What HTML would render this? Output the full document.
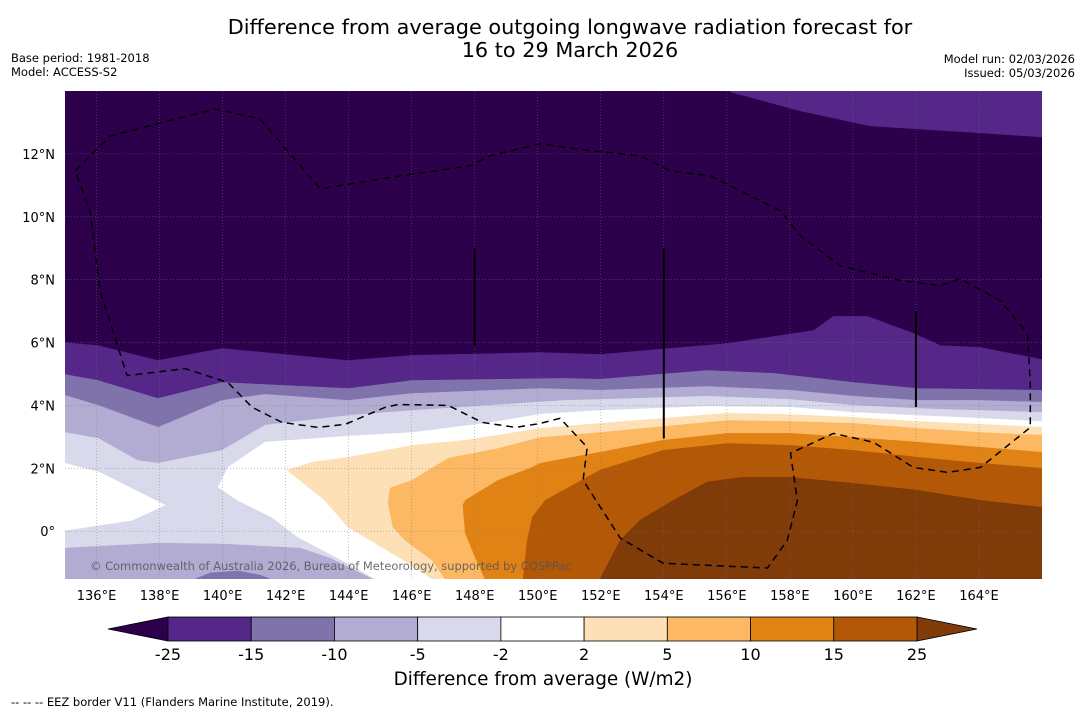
<!DOCTYPE html>
<html><head><meta charset="utf-8">
<style>
html,body{margin:0;padding:0;background:#fff;}
body{width:1085px;height:713px;overflow:hidden;font-family:"Liberation Sans","DejaVu Sans",sans-serif;}
svg text{font-family:"DejaVu Sans","Liberation Sans",sans-serif;}
</style></head>
<body>
<svg id="chart" width="1085" height="713" viewBox="0 0 1085 713" xmlns="http://www.w3.org/2000/svg">
<text x="570" y="34" font-size="20.8" text-anchor="middle">Difference from average outgoing longwave radiation forecast for</text>
<text x="570" y="57" font-size="20.8" text-anchor="middle">16 to 29 March 2026</text>
<text x="11" y="62" font-size="11.5">Base period: 1981-2018</text>
<text x="11" y="76" font-size="11.5">Model: ACCESS-S2</text>
<text x="1075" y="63" font-size="11.5" text-anchor="end">Model run: 02/03/2026</text>
<text x="1075" y="77" font-size="11.5" text-anchor="end">Issued: 05/03/2026</text>
<defs><clipPath id="mapclip"><rect x="65" y="91" width="977" height="488"/></clipPath></defs>
<g id="map" clip-path="url(#mapclip)"></g>
<g id="axes"></g>
<g id="cbar"></g>
<text x="543" y="685" font-size="18.4" text-anchor="middle">Difference from average (W/m2)</text>
<text x="11" y="706" font-size="11.5">--  --  -- EEZ border V11 (Flanders Marine Institute, 2019).</text>
</svg>
<script>
// ---- data (lon, lat) ----
const lonTicks=[136,138,140,142,144,146,148,150,152,154,156,158,160,162,164];
const latTicks=[0,2,4,6,8,10,12];
const levels=[-25,-15,-10,-5,-2,2,5,10,15,25];
const colors=['#2d004b','#542788','#8073ac','#b2abd2','#d8daeb','#ffffff','#fee0b6','#fdb863','#e08214','#b35806','#7f3b08'];
const topRightPurple=[[156.11,14],[156.11,13.97],[158.33,13.37],[160.56,12.89],[163.1,12.73],[166,12.54],[166,14]];
const cM25=[[135,6.0],[136.05,5.9],[137.95,5.43],[139.98,5.81],[143.98,5.43],[146.02,5.59],[150.08,5.68],[151.98,5.62],[156.02,5.97],[158.75,6.38],[159.38,6.83],[160.46,6.83],[161.92,6.29],[162.78,5.9],[164.05,5.84],[166,5.46]];
const cM15=[[135,4.98],[136.05,4.79],[137.95,4.22],[139.98,4.73],[143.98,4.54],[146.02,4.79],[150.87,4.86],[151.98,4.83],[155.38,5.11],[157.48,5.02],[160.02,4.73],[162.05,4.54],[164.05,4.51],[166,4.48]];
const cM10=[[135,4.32],[136.05,4.0],[137.95,3.3],[139.98,4.16],[141.35,4.35],[143.98,4.16],[146.02,4.38],[150.08,4.54],[151.98,4.48],[155.38,4.6],[158.02,4.48],[160.02,4.29],[162.05,4.16],[164.05,4.16],[166,4.1]];
const cM5=[[135,3.14],[136.05,2.95],[137.3,2.25],[137.95,2.16],[139.98,2.57],[141.35,3.37],[143.98,3.68],[146.02,3.84],[150.87,4.16],[151.98,4.19],[155.38,4.29],[158.02,4.19],[160.02,4.0],[162.05,3.9],[164.05,3.84],[166,3.78]];
const lowLeftM5=[[135,-1.52],[135,-0.54],[137.95,-0.38],[139.98,-0.41],[142.46,-0.54],[143.4,-0.86],[144.75,-1.52]];
const lowLeftM10=[[139.13,-1.52],[139.6,-1.33],[140.5,-1.27],[141.2,-1.4],[141.5,-1.52]];
const whiteWedge=[[135,2.16],[136.1,1.87],[138.17,0.83],[137.13,0.35],[135,0.03]];
const cM2Upper=[[139.86,1.4],[140.17,2.03],[141.35,2.83],[143.98,3.02],[146.02,3.14],[148.5,3.45],[150.08,3.72],[151.98,3.84],[155.38,3.97],[158.02,3.94],[160.02,3.78],[162.05,3.68],[164.05,3.59],[166,3.49]];
const cM2Lower=[[139.86,1.4],[140.49,0.98],[141.57,0.44],[142.4,-0.19],[143.98,-1.02],[144.84,-1.52]];
const cP2Upper=[[142.05,1.94],[142.84,2.19],[143.98,2.35],[146.02,2.73],[147.7,2.89],[150.08,3.27],[151.98,3.43],[156.02,3.75],[158.02,3.71],[160.02,3.62],[162.05,3.49],[164.05,3.4],[166,3.3]];
const cP2Lower=[[142.05,1.94],[143.25,0.98],[143.98,0.13],[145.06,-0.51],[146.11,-1.14],[146.65,-1.52]];
const cP5Upper=[[145.32,1.37],[146.02,1.62],[147.16,2.32],[148.75,2.63],[150.08,2.98],[151.98,3.14],[156.02,3.52],[158.02,3.49],[160.02,3.43],[162.05,3.27],[164.05,3.14],[166,3.05]];
const cP5Lower=[[145.32,1.37],[145.25,0.89],[145.41,0.13],[145.79,-0.29],[146.65,-0.92],[147.06,-1.52]];
const cP10Upper=[[147.63,0.83],[147.7,0.98],[148.75,1.62],[149.83,2.03],[150.08,2.16],[151.98,2.51],[153.98,2.89],[156.02,3.11],[158.02,3.11],[160.02,2.98],[162.05,2.83],[164.05,2.67],[166,2.51]];
const cP10Lower=[[147.63,0.83],[147.7,-0.06],[148.02,-0.83],[148.33,-1.52]];
const cP15=[[149.54,-1.52],[149.67,-0.29],[149.83,0.44],[150.24,0.98],[151.98,1.94],[153.98,2.57],[156.02,2.79],[158.02,2.73],[160.02,2.57],[162.05,2.35],[164.05,2.16],[166,2.0]];
const cP25=[[151.98,-1.52],[152.62,-0.29],[153.25,0.35],[154.3,0.98],[155.38,1.56],[156.43,1.71],[158.02,1.71],[160.02,1.52],[162.05,1.3],[164.05,0.98],[166,0.76]];
const eez=[[135.32,11.46],[136.43,12.57],[138.02,12.98],[139.76,13.43],[141.19,13.11],[143.1,10.89],[145.63,11.3],[147.86,11.62],[148.49,11.94],[150.08,12.32],[151.67,12.1],[153.25,11.94],[154.21,11.46],[155.48,11.3],[157.7,10.19],[158.33,9.4],[159.6,8.44],[161.51,7.97],[162.78,7.81],[163.41,8.03],[164.68,7.33],[165.54,6.29],[165.63,4.7],[165.63,3.3],[164.05,2.03],[163.0,1.87],[161.92,2.03],[160.65,2.83],[159.38,3.11],[158.02,2.48],[158.24,0.98],[157.92,-0.29],[157.29,-1.17],[153.98,-1.02],[152.62,-0.22],[151.44,1.62],[151.57,2.67],[150.71,3.59],[150.08,3.43],[149.29,3.3],[148.24,3.46],[147.16,4.0],[145.57,4.03],[145.16,3.94],[143.89,3.4],[143.03,3.3],[141.89,3.46],[140.94,3.94],[140.17,4.73],[138.81,5.17],[136.97,4.95],[136.11,7.65],[135.79,10.19],[135.32,11.46]];
const eezSegments=[[[148.0,9.0],[148.0,5.9]],[[154.0,9.0],[154.0,2.95]],[[162.0,7.0],[162.0,3.95]]];

// ---- axes ----
const LON0=135,LON1=166,LAT0=-1.52,LAT1=14;
const X0=65,X1=1042,Y0=579,Y1=91;
const xs=lon=>X0+(lon-LON0)/(LON1-LON0)*(X1-X0);
const ys=lat=>Y0-(lat-LAT0)/(LAT1-LAT0)*(Y0-Y1);
const NS='http://www.w3.org/2000/svg';
function mk(tag,attrs,parent){const e=document.createElementNS(NS,tag);for(const k in attrs)e.setAttribute(k,attrs[k]);parent.appendChild(e);return e;}
const pts=a=>a.map(p=>xs(p[0]).toFixed(1)+','+ys(p[1]).toFixed(1)).join(' ');
const map=document.getElementById('map');
function poly(arr,fill,name){const e=mk('polygon',{points:pts(arr),fill:fill,stroke:fill,'stroke-width':0.6},map);

return e;}
const BL=[LON0,LAT0],BR=[LON1,LAT0];
const bg=mk('rect',{x:X0,y:Y1,width:X1-X0,height:Y0-Y1,fill:colors[0]},map);


poly(topRightPurple,colors[1],'band-minus25-top-right');
poly([...cM25,BR,BL],colors[1],'band-minus25-to-minus15');
poly([...cM15,BR,BL],colors[2],'band-minus15-to-minus10');
poly([...cM10,BR,BL],colors[3],'band-minus10-to-minus5');
poly([...cM5,BR,BL],colors[4],'band-minus5-to-minus2');
poly(whiteWedge,colors[5],'band-neutral-west');
poly([...cM2Lower.slice().reverse(),...cM2Upper,BR],colors[5],'band-neutral');
poly(lowLeftM5,colors[3],'band-minus10-to-minus5-south');
poly(lowLeftM10,colors[2],'band-minus15-to-minus10-south');
poly([...cP2Lower.slice().reverse(),...cP2Upper,BR],colors[6],'band-2-to-5');
poly([...cP5Lower.slice().reverse(),...cP5Upper,BR],colors[7],'band-5-to-10');
poly([...cP10Lower.slice().reverse(),...cP10Upper,BR],colors[8],'band-10-to-15');
poly([...cP15,BR],colors[9],'band-15-to-25');
poly([...cP25,BR],colors[10],'band-above-25');
// grid
const ax=document.getElementById('axes');
lonTicks.forEach(l=>{const g=mk('line',{x1:xs(l),x2:xs(l),y1:Y1,y2:Y0,stroke:'#777','stroke-width':0.6,'stroke-dasharray':'1,2',opacity:0.7},map);


const t=mk('text',{x:xs(l),y:600,'font-size':13,'text-anchor':'middle'},ax);t.textContent=l+'°E';

});
latTicks.forEach(l=>{const g=mk('line',{x1:X0,x2:X1,y1:ys(l),y2:ys(l),stroke:'#777','stroke-width':0.6,'stroke-dasharray':'1,2',opacity:0.7},map);


const t=mk('text',{x:55,y:ys(l)+5,'font-size':13,'text-anchor':'end'},ax);t.textContent=(l===0?'0°':l+'°N');

});
// EEZ
const ez=mk('polyline',{points:pts(eez),fill:'none',stroke:'#000','stroke-width':1.5,'stroke-dasharray':'7,5'},map);


eezSegments.forEach(s=>{const l=mk('line',{x1:xs(s[0][0]),y1:ys(s[0][1]),x2:xs(s[1][0]),y2:ys(s[1][1]),stroke:'#000','stroke-width':2},map);

});
const cp=mk('text',{x:90,y:570,'font-size':11.45,fill:'#555','fill-opacity':0.85},map);cp.textContent='© Commonwealth of Australia 2026, Bureau of Meteorology, supported by COSPPac';


// colorbar
const cb=document.getElementById('cbar');
const CB0=168,CB1=917,CBY=617,CBH=24;
const bw=(CB1-CB0)/(levels.length-1);
const lt=mk('polygon',{points:`108,${CBY+CBH/2} ${CB0},${CBY} ${CB0},${CBY+CBH}`,fill:colors[0],stroke:'#000','stroke-width':0.8},cb);


const rt=mk('polygon',{points:`977,${CBY+CBH/2} ${CB1},${CBY} ${CB1},${CBY+CBH}`,fill:colors[10],stroke:'#000','stroke-width':0.8},cb);


for(let i=0;i<levels.length-1;i++){const r=mk('rect',{x:CB0+i*bw,y:CBY,width:bw,height:CBH,fill:colors[i+1],stroke:'#000','stroke-width':0.8},cb);

}
levels.forEach((v,i)=>{const t=mk('text',{x:CB0+i*bw,y:660,'font-size':16,'text-anchor':'middle'},cb);t.textContent=v;

});
</script>
</body></html>
